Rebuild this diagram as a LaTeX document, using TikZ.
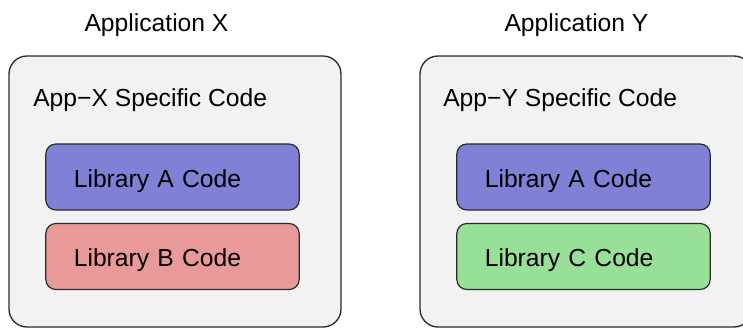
\documentclass[tikz,border=0pt]{standalone}
\usepackage{fontspec}
\setmainfont{Liberation Sans}
\usetikzlibrary{positioning}

\definecolor{app fill}{HTML}{F2F2F2}
\definecolor{lib A}{HTML}{8080D6}
\definecolor{lib B}{HTML}{EA9999}
\definecolor{lib C}{HTML}{98E098}
\definecolor{edge}{HTML}{2A2A2A}

\tikzset{
  every node/.style={font=\fontsize{18.5pt}{22pt}\selectfont, inner sep=0pt},
  app box/.style={draw=edge, fill=app fill, line width=1pt, rounded corners=13.5pt,
    minimum width=249pt, minimum height=203.25pt},
  lib box/.style={draw=edge, line width=0.9pt, rounded corners=7.5pt,
    minimum width=190pt, minimum height=49.5pt, text width=148pt, inner xsep=21pt,
    align=left, text height=15pt, text depth=0pt},
}

\begin{document}
\begin{tikzpicture}[x=0.75pt, y=-0.75pt]
    \useasboundingbox (0,0) rectangle (743,328);
    \clip (0,0) rectangle (743,328);
    
    \foreach \app/\x/\t/\lib in {X/0/0/B, Y/411/420/C} {
      \node [app box] (app-\app) at (175+\x,191.5) {};
      \node [anchor=base] (title-\app) at (156.5+\t,32) {Application \app};
      \node [anchor=base west] (own-\app) at (33+\x-\x/411,107) {App−\app{} Specific Code};
      \node [lib box, fill=lib A] (libA-\app) at (172.5+\x,177) {Library A Code};
      \node [lib box, fill=lib \lib] (lib\lib-\app) at (172.5+\x,256.5) {Library \lib{} Code};
    }
    
\end{tikzpicture}
\end{document}
